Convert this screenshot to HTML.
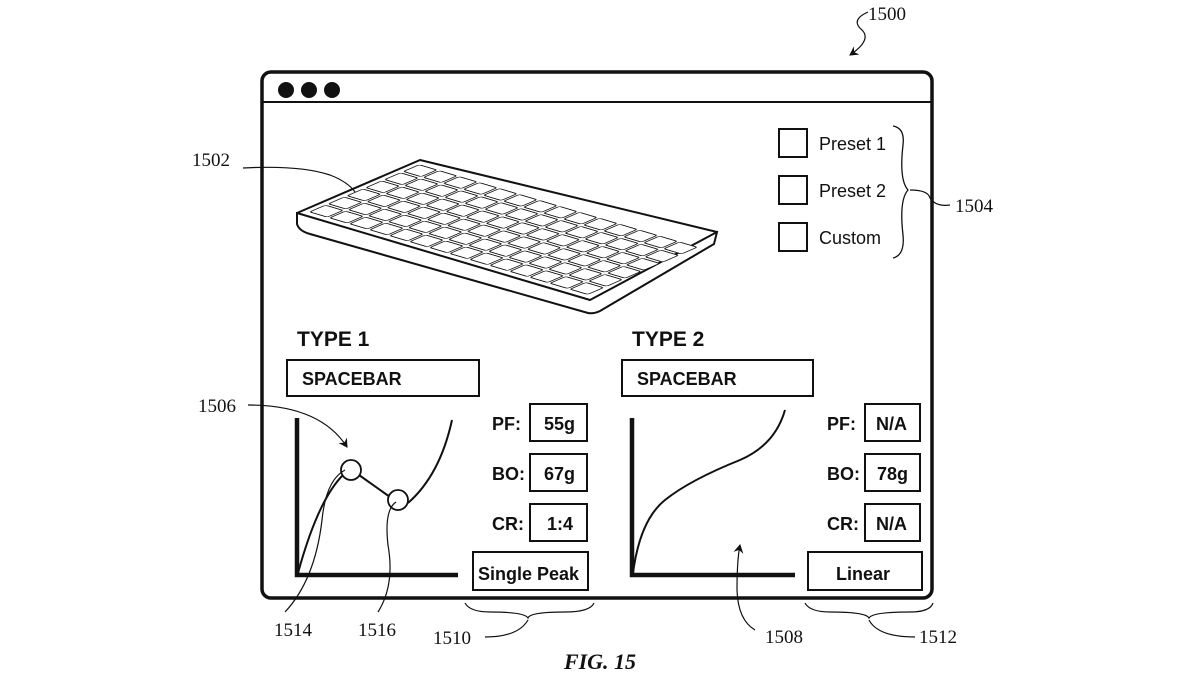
<!DOCTYPE html>
<html><head><style>
html,body{margin:0;padding:0;background:#fff;}
svg{display:block;}
.s{font-family:"Liberation Sans",sans-serif;font-weight:bold;fill:#111;}
.n{font-family:"Liberation Serif",serif;fill:#111;font-size:19px;}
</style></head><body>
<svg width="1200" height="675" viewBox="0 0 1200 675" xmlns="http://www.w3.org/2000/svg">
<defs>
<pattern id="keys" patternUnits="userSpaceOnUse" x="5" y="5" width="20.5" height="18.3">
<rect x="1.2" y="1.5" width="18" height="15.3" rx="2" fill="#fff" stroke="#111" stroke-width="1.2"/>
</pattern>
<marker id="ah" markerWidth="10" markerHeight="10" refX="8" refY="5" orient="auto" markerUnits="userSpaceOnUse"><path d="M0,0 L9,5 L0,10 L3,5 Z" fill="#111"/></marker>
</defs>
<!-- window -->
<rect x="262" y="72" width="670" height="526" rx="9" fill="#fff" stroke="#111" stroke-width="3.5"/>
<line x1="262" y1="102" x2="932" y2="102" stroke="#111" stroke-width="2"/>
<circle cx="286" cy="90" r="8" fill="#111"/><circle cx="309" cy="90" r="8" fill="#111"/><circle cx="332" cy="90" r="8" fill="#111"/>
<!-- keyboard -->
<path d="M297,213 L297,224 Q299,231 310,234 L588,313 Q594,314 600,311 L714,244 L717,232 Z" fill="#fff" stroke="#111" stroke-width="2"/>
<path d="M297,213 L420,160 L717,232 L590,300 Z" fill="#fff" stroke="#111" stroke-width="2" stroke-linejoin="round"/>
<g transform="matrix(0.977,0.29,1.025,-0.442,297,213)">
<rect x="5" y="5" width="287" height="109.8" fill="url(#keys)"/>
</g>
<!-- presets -->
<g fill="#fff" stroke="#111" stroke-width="2">
<rect x="779" y="129" width="28" height="28"/><rect x="779" y="176" width="28" height="28"/><rect x="779" y="223" width="28" height="28"/>
</g>
<g font-family="Liberation Sans,sans-serif" font-size="18" fill="#111">
<text x="819" y="150">Preset 1</text><text x="819" y="197">Preset 2</text><text x="819" y="244">Custom</text>
</g>
<path d="M893,126 Q905,128 903,145 Q899,180 908,190 Q899,200 903,235 Q905,255 893,258" fill="none" stroke="#111" stroke-width="1.3"/>
<path d="M910,190 Q928,190 930,198 Q936,207 950,205" fill="none" stroke="#111" stroke-width="1.2"/>
<text class="n" x="955" y="212">1504</text>
<!-- TYPE 1 -->
<text class="s" x="297" y="346" font-size="21">TYPE 1</text>
<rect x="287" y="360" width="192" height="36" fill="#fff" stroke="#111" stroke-width="2"/>
<text class="s" x="302" y="385" font-size="18">SPACEBAR</text>
<path d="M297,418 L297,575 L458,575" fill="none" stroke="#111" stroke-width="4.5"/>
<path d="M298,573 Q318,500 343,475" fill="none" stroke="#111" stroke-width="2"/>
<path d="M359,475 L390,497" fill="none" stroke="#111" stroke-width="2"/>
<path d="M408,503 Q440,475 452,420" fill="none" stroke="#111" stroke-width="2"/>
<circle cx="351" cy="470" r="10" fill="#fff" stroke="#111" stroke-width="1.8"/>
<circle cx="398" cy="500" r="10" fill="#fff" stroke="#111" stroke-width="1.8"/>
<g class="s" font-size="18">
<text x="492" y="430">PF:</text><text x="492" y="480">BO:</text><text x="492" y="530">CR:</text>
<text x="544" y="430">55g</text><text x="544" y="480">67g</text><text x="547" y="530">1:4</text>
<text x="478" y="580">Single Peak</text>
</g>
<g fill="none" stroke="#111" stroke-width="2">
<rect x="530" y="404" width="57" height="37"/><rect x="530" y="454" width="57" height="37"/><rect x="530" y="504" width="57" height="37"/><rect x="473" y="552" width="115" height="38"/>
</g>
<!-- TYPE 2 -->
<text class="s" x="632" y="346" font-size="21">TYPE 2</text>
<rect x="622" y="360" width="191" height="36" fill="#fff" stroke="#111" stroke-width="2"/>
<text class="s" x="637" y="385" font-size="18">SPACEBAR</text>
<path d="M632,418 L632,575 L795,575" fill="none" stroke="#111" stroke-width="4.5"/>
<path d="M633,573 Q640,520 665,500 Q690,480 740,460 Q775,445 785,410" fill="none" stroke="#111" stroke-width="2"/>
<g class="s" font-size="18">
<text x="827" y="430">PF:</text><text x="827" y="480">BO:</text><text x="827" y="530">CR:</text>
<text x="876" y="430">N/A</text><text x="877" y="480">78g</text><text x="876" y="530">N/A</text>
<text x="836" y="580">Linear</text>
</g>
<g fill="none" stroke="#111" stroke-width="2">
<rect x="865" y="404" width="55" height="37"/><rect x="865" y="454" width="55" height="37"/><rect x="865" y="504" width="55" height="37"/><rect x="808" y="552" width="114" height="38"/>
</g>
<!-- reference labels -->
<g fill="none" stroke="#111" stroke-width="1.2">
<path d="M868,12 Q850,20 862,30 Q872,40 850,55" marker-end="url(#ah)"/>
<path d="M243,168 Q300,165 330,175 Q348,182 355,192"/>
<path d="M248,405 Q320,405 347,447" marker-end="url(#ah)"/>
<path d="M285,612 Q315,580 322,520 Q326,480 345,470"/>
<path d="M378,612 Q395,585 388,545 Q384,510 396,502"/>
<path d="M465,603 Q470,612 490,612 Q525,612 528,618 Q530,612 565,612 Q590,612 594,603"/>
<path d="M528,620 Q518,637 485,637"/>
<path d="M755,630 Q738,620 737,590 Q737,560 740,545" marker-end="url(#ah)"/>
<path d="M805,603 Q810,612 830,612 Q866,612 869,618 Q872,612 910,612 Q930,612 933,603"/>
<path d="M869,620 Q878,637 915,637"/>
</g>
<text class="n" x="868" y="20">1500</text>
<text class="n" x="192" y="166">1502</text>
<text class="n" x="198" y="412">1506</text>
<text class="n" x="274" y="636">1514</text>
<text class="n" x="358" y="636">1516</text>
<text class="n" x="433" y="644">1510</text>
<text class="n" x="765" y="643">1508</text>
<text class="n" x="919" y="643">1512</text>
<text x="600" y="669" text-anchor="middle" font-family="Liberation Serif,serif" font-style="italic" font-weight="bold" font-size="22" fill="#111">FIG.  15</text>
</svg>
</body></html>
